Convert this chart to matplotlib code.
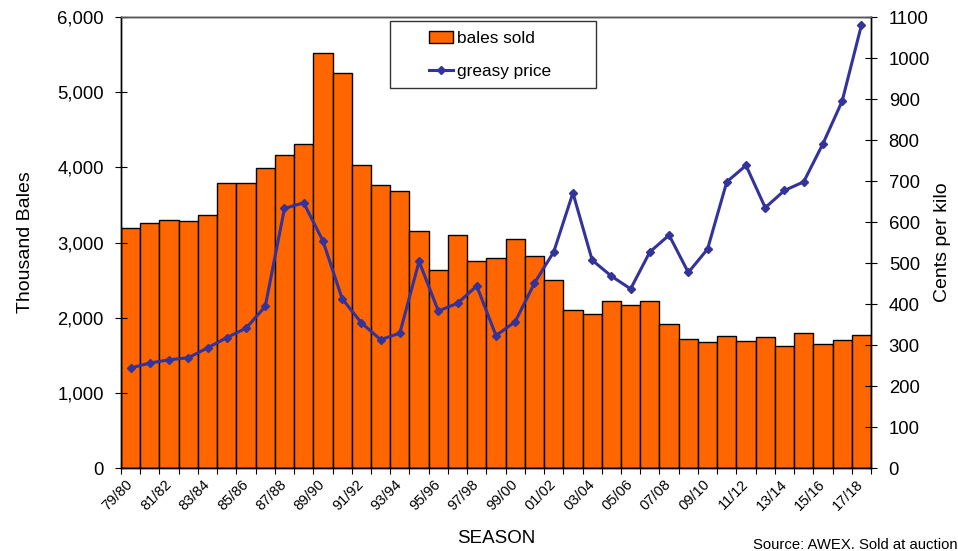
import matplotlib.pyplot as plt
import numpy as np
from matplotlib.patches import Rectangle
from matplotlib.ticker import FuncFormatter, MultipleLocator

plt.rcParams['font.family'] = ['Liberation Sans', 'DejaVu Sans']

# seasons 79/80 .. 17/18
seasons = ['%02d/%02d' % (y % 100, (y + 1) % 100) for y in range(1979, 2018)]

# thousand bales sold at auction
bales = [3190, 3260, 3300, 3280, 3366, 3791, 3797, 3987, 4164, 4310,
         5526, 5260, 4027, 3765, 3681, 3153, 2640, 3100, 2759, 2794,
         3047, 2820, 2501, 2098, 2054, 2227, 2164, 2220, 1921, 1716,
         1676, 1756, 1685, 1743, 1619, 1796, 1650, 1703, 1775]

# greasy price, cents per kilo
price = [244, 256, 264, 269, 293, 318, 341, 394, 633, 647,
         554, 413, 354, 313, 329, 504, 383, 402, 444, 323,
         357, 451, 527, 671, 507, 468, 437, 527, 568, 477,
         534, 698, 738, 635, 677, 698, 791, 895, 1080]

x = np.arange(len(seasons))

fig, ax = plt.subplots(1, 1, figsize=(9.58, 5.51), dpi=100)
fig.subplots_adjust(left=0.1263, right=0.9092, top=0.9691, bottom=0.1506)

bars = ax.bar(x, bales, width=1.0, color='#FF6600', edgecolor='black', linewidth=1.0)
ax.set_xlim(-0.5, len(seasons) - 0.5)
ax.set_ylim(0, 6000)
ax.yaxis.set_major_locator(MultipleLocator(1000))
ax.yaxis.set_major_formatter(FuncFormatter(lambda v, p: '{:,.0f}'.format(v)))
ax.set_ylabel('Thousand Bales', fontsize=14, labelpad=17)
ax.set_xlabel('SEASON', fontsize=13.5, labelpad=12)

# tick marks between seasons, labels on every other season
ax.set_xticks(np.arange(len(seasons) + 1) - 0.5)
ax.set_xticklabels([])
ax.set_xticks(x[::2], minor=True)
ax.set_xticklabels(seasons[::2], minor=True, rotation=45, ha='right', va='center',
                   rotation_mode='anchor', fontsize=10.5)
ax.tick_params(axis='x', which='minor', length=0, pad=10)
ax.tick_params(axis='x', which='major', length=8.5, direction='inout')
ax.tick_params(axis='y', labelsize=13.3, length=8.5, direction='inout', pad=8)

ax2 = ax.twinx()
line, = ax2.plot(x, price, color='#333399', linewidth=2.2, marker='D', markersize=4)
ax2.set_ylim(0, 1100)
ax2.yaxis.set_major_locator(MultipleLocator(100))
ax2.set_ylabel('Cents per kilo', fontsize=14, labelpad=3)
ax2.tick_params(axis='y', labelsize=13.3, length=8.5, direction='inout', pad=8.5)

for a in (ax, ax2):
    for s in a.spines.values():
        s.set_linewidth(1.0)
ax2.spines['top'].set_color('#555555')

# legend box drawn separately so the padding matches the original
ax2.add_patch(Rectangle((0.3587, 0.8426), 0.2747, 0.1486, transform=ax2.transAxes,
                        facecolor='white', edgecolor='#333333', linewidth=1.0,
                        zorder=4, clip_on=False))
ax2.legend([bars, line], ['bales sold', 'greasy price'], loc='center left',
           bbox_to_anchor=(0.4107, 0.9157), fontsize=12.4, frameon=False,
           labelspacing=1.0, handlelength=1.4, handletextpad=0.23,
           borderpad=0, borderaxespad=0)

fig.text(0.786, 0.011, 'Source: AWEX. Sold at auction', ha='left', va='center',
         fontsize=10.7)

plt.savefig('out.png', dpi=100)
